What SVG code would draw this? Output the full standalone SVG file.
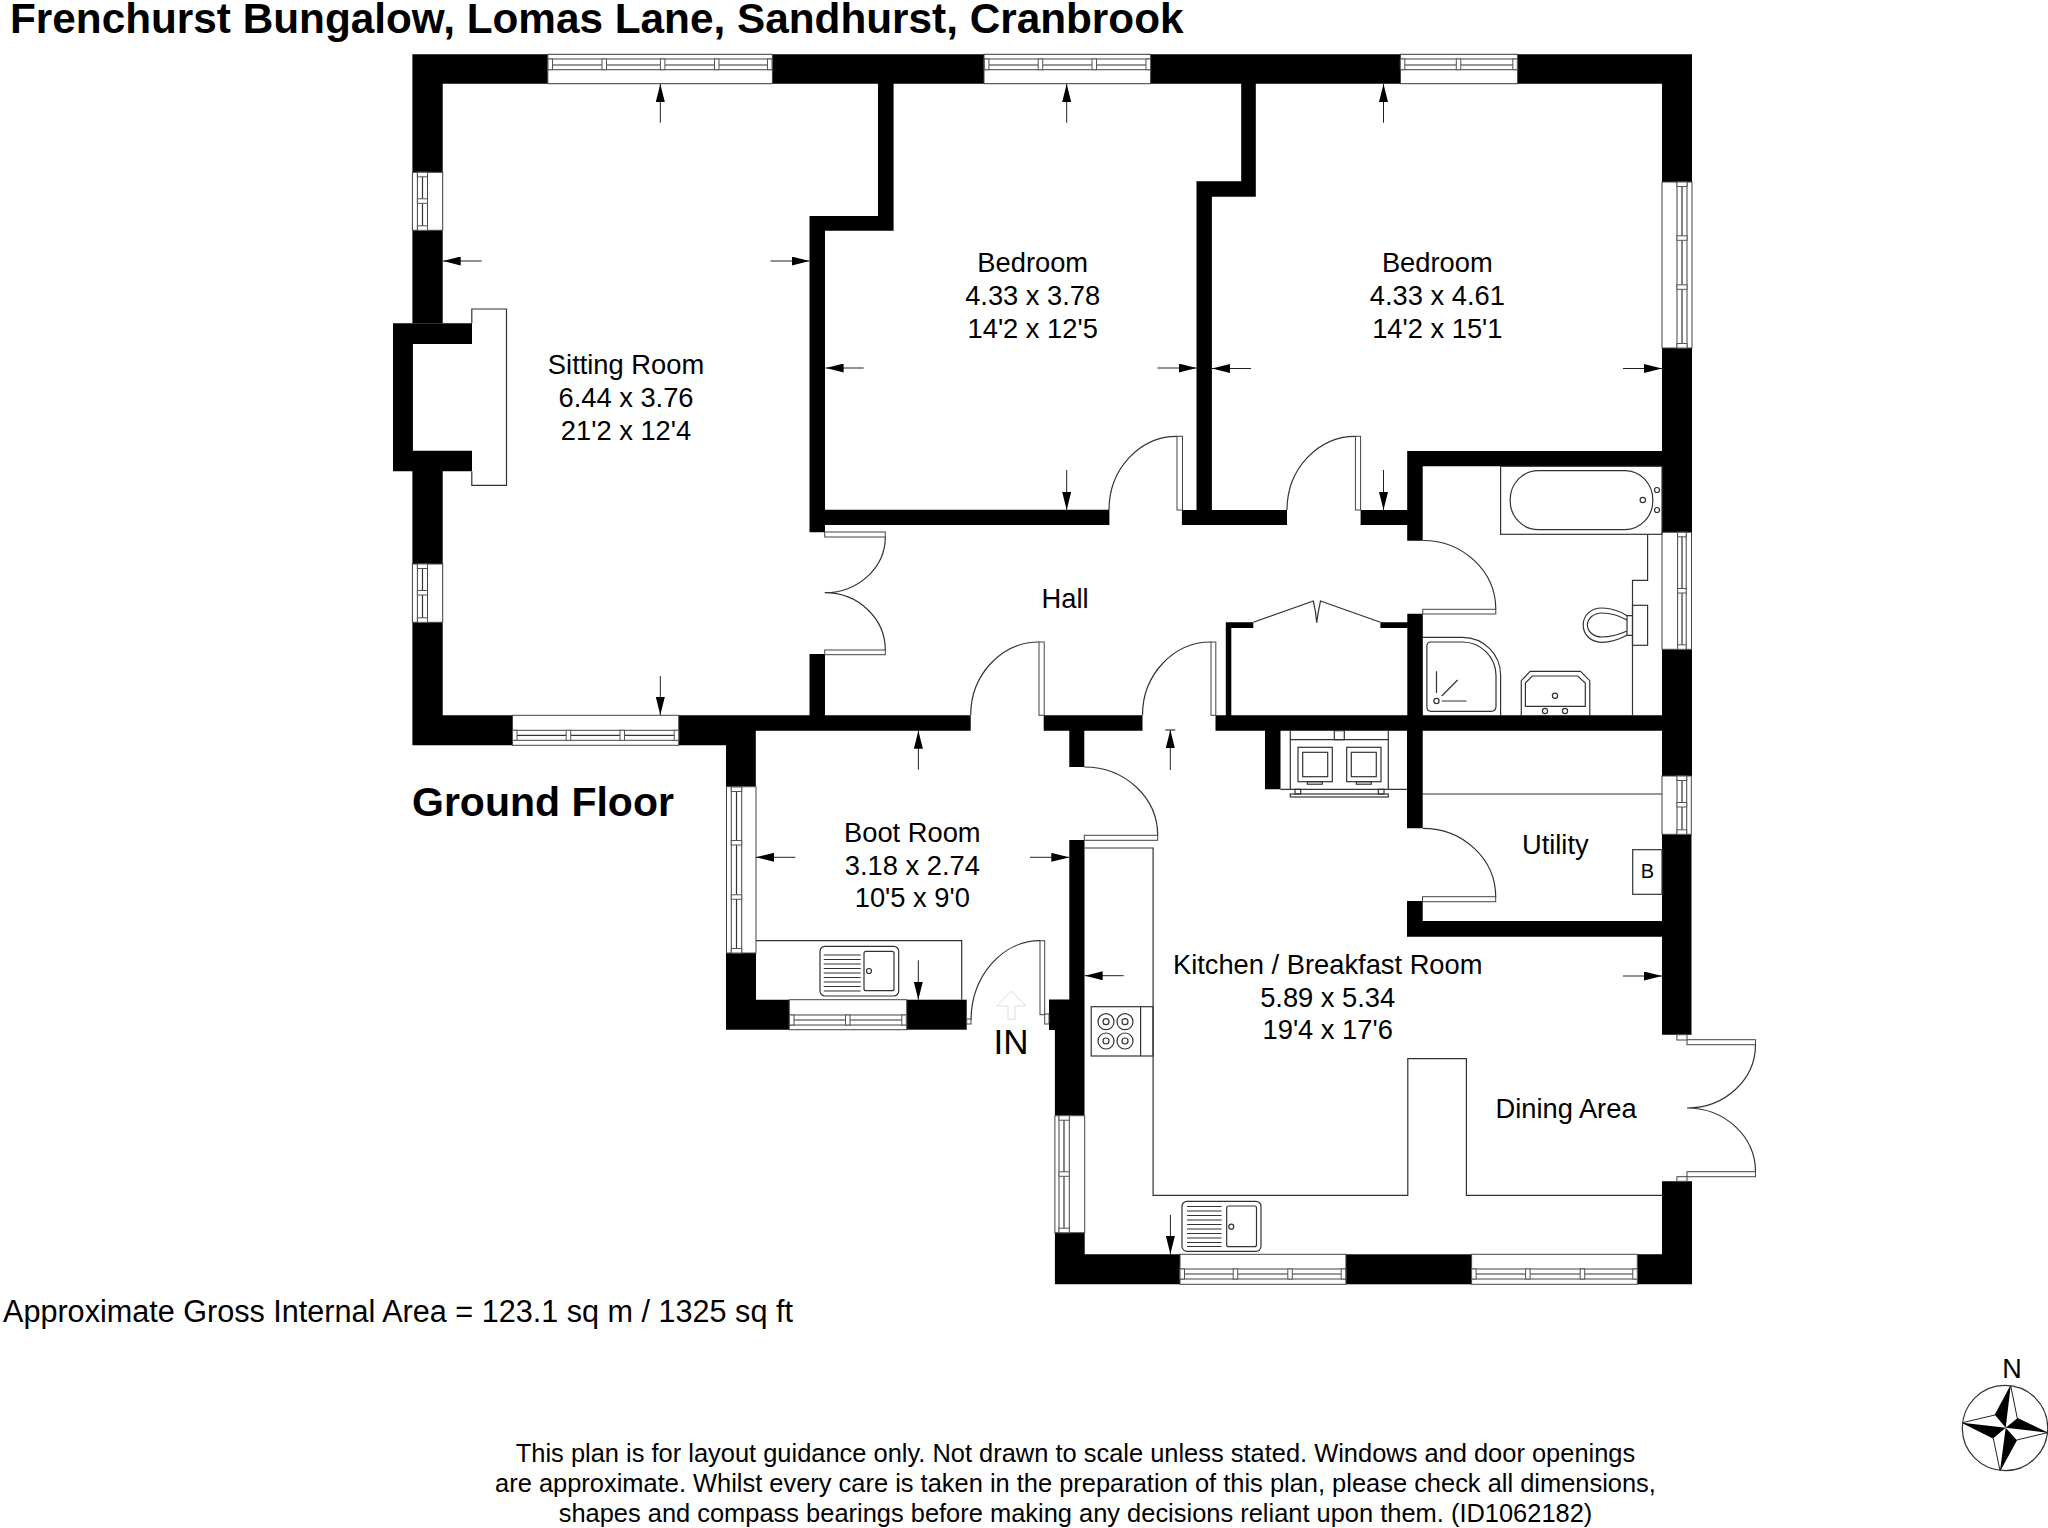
<svg xmlns="http://www.w3.org/2000/svg" width="2048" height="1528" viewBox="0 0 2048 1528">
<style>
text{font-family:"Liberation Sans",Arial,sans-serif;fill:#000}
.r{font-size:27.3px;text-anchor:middle}
.d{font-size:25.45px;text-anchor:middle}
.b{font-weight:bold}
.w{fill:#000;stroke:none}
.l{fill:none;stroke:#333;stroke-width:1.2}
.g{fill:#fff;stroke:#444;stroke-width:1}
.m{fill:#fff;stroke:#555;stroke-width:1}
.a{stroke:#222;stroke-width:1;fill:none;marker-end:url(#ah)}
</style>
<defs>
<marker id="ah" markerUnits="userSpaceOnUse" viewBox="0 0 18 9" refX="18" refY="4.5" markerWidth="18" markerHeight="9" orient="auto"><path d="M0 0L18 4.5L0 9Z" fill="#000"/></marker>
</defs>
<rect width="2048" height="1528" fill="#fff"/>
<g id="walls">
<path class="w" d="M412.4 54.3H1692V182H1662V83.7H442.7V323.3H412.4Z"/>
<path class="w" d="M393 323.3H472V344H412.9V450.7H472V471.3H442.7V715.3H512.5V745.3H412.4V471.3H393Z"/>
<path class="w" d="M678.7 715.3H970.7V730.7H755.8V786.7H726V745.3H678.7Z"/>
<path class="w" d="M726 953H756V999.7H789.3V1029.7H726Z"/>
<rect class="w" x="906.7" y="999.7" width="60" height="30"/>
<path class="w" d="M1069.3 840H1084.5V1115.7H1054.9V1030H1049V999.5H1069.3Z"/>
<path class="w" d="M1054.9 1232.7H1084.7V1254.3H1180V1284.3H1054.9Z"/>
<rect class="w" x="1345.9" y="1254.3" width="125.7" height="30"/>
<path class="w" d="M1637.3 1254.3H1662V1181.3H1692V1284.3H1637.3Z"/>
<path class="w" d="M878 83H893.6V230.7H825V509.7H1109.4V525H825V532.3H809.5V216H878Z"/>
<rect class="w" x="809.5" y="654" width="15.5" height="62"/>
<path class="w" d="M1241.2 83H1255.8V196.7H1211.9V510H1287V525H1181.9V510H1196.5V181.3H1241.2Z"/>
<path class="w" d="M1407.2 451H1692V532.3H1662V466.3H1422.7V540.7H1407.2V525H1360.6V510H1407.2Z"/>
<rect class="w" x="1662" y="348" width="30" height="105"/>
<path class="w" d="M1043.7 715.3H1142.5V730.7H1084.3V767H1069.3V730.7H1043.7Z"/>
<path class="w" d="M1407.3 613.7H1422.8V715.3H1662V649.3H1692V776H1662V730.7H1422.7V828.3H1407V730.7H1280.5V789.3H1265V730.7H1215.5V715.3H1225.8V622.3H1253.3V628H1231.3V715.3H1407.3V628H1380.4V622.3H1407.3Z"/>
<path class="w" d="M1407 901H1422.7V921H1662V834.3H1691.5V1034.7H1662V936.7H1407Z"/>
</g>
<g id="windows">
<g><rect class="g" x="547.8" y="54.3" width="224.6" height="29.4"/><rect class="g" x="548" y="59" width="224.4" height="10.7"/><path class="l" d="M548 65H772"/><rect class="m" x="548" y="59" width="4.5" height="10.7"/><rect class="m" x="602" y="59" width="4.5" height="10.7"/><rect class="m" x="660.4" y="59" width="4.5" height="10.7"/><rect class="m" x="714.5" y="59" width="4.5" height="10.7"/><rect class="m" x="767.5" y="59" width="4.5" height="10.7"/></g>
<g><rect class="g" x="984" y="54.3" width="166.6" height="29.4"/><rect class="g" x="984" y="59" width="166.6" height="10.7"/><path class="l" d="M984 65H1150"/><rect class="m" x="984.4" y="59" width="4.5" height="10.7"/><rect class="m" x="1038.2" y="59" width="4.5" height="10.7"/><rect class="m" x="1092" y="59" width="4.5" height="10.7"/><rect class="m" x="1146" y="59" width="4.5" height="10.7"/></g>
<g><rect class="g" x="1400.5" y="54.3" width="117.1" height="29.4"/><rect class="g" x="1400.5" y="59" width="117.1" height="10.7"/><path class="l" d="M1400.5 65H1517"/><rect class="m" x="1400.3" y="59" width="4.5" height="10.7"/><rect class="m" x="1456.3" y="59" width="4.5" height="10.7"/><rect class="m" x="1512.8" y="59" width="4.5" height="10.7"/></g>
<g><rect class="g" x="1662" y="182" width="30" height="166"/><rect class="g" x="1677" y="182" width="10" height="166"/><path class="l" d="M1682 182V348"/><rect class="m" x="1677" y="182" width="10" height="4.5"/><rect class="m" x="1677" y="235.8" width="10" height="4.5"/><rect class="m" x="1677" y="284.8" width="10" height="4.5"/><rect class="m" x="1677" y="343.5" width="10" height="4.5"/></g>
<g><rect class="g" x="412.4" y="172.3" width="30.3" height="58"/><rect class="g" x="417.4" y="172.3" width="10.1" height="58"/><path class="l" d="M422.5 172.3V230.3"/><rect class="m" x="417.4" y="172.3" width="10.1" height="4.5"/><rect class="m" x="417.4" y="198.8" width="10.1" height="4.5"/><rect class="m" x="417.4" y="225.8" width="10.1" height="4.5"/></g>
<g><rect class="g" x="412.4" y="564" width="30.3" height="58.3"/><rect class="g" x="417.4" y="564" width="10.1" height="58.3"/><path class="l" d="M422.5 564V622"/><rect class="m" x="417.4" y="564" width="10.1" height="4.5"/><rect class="m" x="417.4" y="590.5" width="10.1" height="4.5"/><rect class="m" x="417.4" y="617.8" width="10.1" height="4.5"/></g>
<g><rect class="g" x="512.5" y="715.3" width="166.2" height="30"/><rect class="g" x="512.5" y="730.3" width="166.2" height="10"/><path class="l" d="M512.5 735.3H678.7"/><rect class="m" x="512.5" y="730.3" width="4.5" height="10"/><rect class="m" x="566.2" y="730.3" width="4.5" height="10"/><rect class="m" x="620" y="730.3" width="4.5" height="10"/><rect class="m" x="674.2" y="730.3" width="4.5" height="10"/></g>
<g><rect class="g" x="726.5" y="786.7" width="29.5" height="166.3"/><rect class="g" x="731.3" y="786.7" width="10.4" height="166.3"/><path class="l" d="M736.5 786.7V953"/><rect class="m" x="731.3" y="787" width="10.4" height="4.5"/><rect class="m" x="731.3" y="840.5" width="10.4" height="4.5"/><rect class="m" x="731.3" y="894.8" width="10.4" height="4.5"/><rect class="m" x="731.3" y="948.5" width="10.4" height="4.5"/></g>
<g><rect class="g" x="789.3" y="999.7" width="117.4" height="30"/><rect class="g" x="789.3" y="1015" width="117.4" height="10"/><path class="l" d="M789.3 1020H906.7"/><rect class="m" x="789.5" y="1015" width="4.5" height="10"/><rect class="m" x="845.5" y="1015" width="4.5" height="10"/><rect class="m" x="901.8" y="1015" width="4.5" height="10"/></g>
<g><rect class="g" x="1662" y="532.3" width="29.5" height="117"/><rect class="g" x="1677.6" y="532.3" width="8.6" height="117"/><path class="l" d="M1682 532.3V649.3"/><rect class="m" x="1677.6" y="532.3" width="8.6" height="4.5"/><rect class="m" x="1677.6" y="588.5" width="8.6" height="4.5"/><rect class="m" x="1677.6" y="644.8" width="8.6" height="4.5"/></g>
<g><rect class="g" x="1662" y="776" width="29.3" height="58.3"/><rect class="g" x="1677" y="776" width="9.7" height="58.3"/><path class="l" d="M1682 776V834"/><rect class="m" x="1677" y="776" width="9.7" height="4.5"/><rect class="m" x="1677" y="802.5" width="9.7" height="4.5"/><rect class="m" x="1677" y="829.8" width="9.7" height="4.5"/></g>
<g><rect class="g" x="1054.9" y="1115.7" width="29.8" height="117"/><rect class="g" x="1059" y="1115.7" width="10.3" height="117"/><path class="l" d="M1064 1115.7V1232.7"/><rect class="m" x="1059" y="1115.7" width="10.3" height="4.5"/><rect class="m" x="1059" y="1171.8" width="10.3" height="4.5"/><rect class="m" x="1059" y="1228.2" width="10.3" height="4.5"/></g>
<g><rect class="g" x="1180" y="1254.3" width="165.9" height="30"/><rect class="g" x="1180" y="1269" width="165.9" height="10"/><path class="l" d="M1180 1274H1345.9"/><rect class="m" x="1180" y="1269" width="4.5" height="10"/><rect class="m" x="1233.2" y="1269" width="4.5" height="10"/><rect class="m" x="1287.8" y="1269" width="4.5" height="10"/><rect class="m" x="1341.2" y="1269" width="4.5" height="10"/></g>
<g><rect class="g" x="1471.6" y="1254.3" width="165.7" height="30"/><rect class="g" x="1471.6" y="1269" width="165.7" height="10"/><path class="l" d="M1471.6 1274H1637.3"/><rect class="m" x="1471.6" y="1269" width="4.5" height="10"/><rect class="m" x="1525.6" y="1269" width="4.5" height="10"/><rect class="m" x="1580.2" y="1269" width="4.5" height="10"/><rect class="m" x="1632.8" y="1269" width="4.5" height="10"/></g>
</g>
<g id="doors">
<rect class="g" x="824.7" y="532" width="60.6" height="5"/><path class="l" d="M885.3 537A60.6 55.7 0 0 1 824.7 592.7A60.6 57.3 0 0 1 885.3 650"/><rect class="g" x="824.7" y="650" width="60.6" height="4.7"/>
<rect class="g" x="1177" y="436.3" width="5.5" height="73.7"/><path class="l" d="M1177 436.3A68 73.7 0 0 0 1109 510"/>
<rect class="g" x="1355.4" y="436.3" width="5.2" height="73.7"/><path class="l" d="M1355.4 436.3A68.4 73.7 0 0 0 1287 510"/>
<rect class="g" x="1039" y="642" width="5.2" height="73.3"/><path class="l" d="M1039 642A68.3 73.3 0 0 0 970.7 715.3"/>
<rect class="g" x="1211" y="642" width="4.8" height="73.3"/><path class="l" d="M1211 642A68.5 73.3 0 0 0 1142.5 715.3"/>
<rect class="g" x="1422.8" y="609.3" width="73" height="4.7"/><path class="l" d="M1422.8 540.5A73 68.8 0 0 1 1495.8 609.3"/>
<path class="l" d="M1253.3 622.3L1313.3 601Q1316 612 1316.7 622.7Q1318 612 1320.5 601L1380.4 622.3"/>
<rect class="g" x="1084.3" y="835.3" width="73.4" height="5"/><path class="l" d="M1084.3 767A73.4 68.3 0 0 1 1157.7 835.3"/>
<rect class="g" x="1422.5" y="896.7" width="73.2" height="5"/><path class="l" d="M1422.7 828.3A73 68.4 0 0 1 1495.7 896.7"/>
<rect class="g" x="1040" y="940.7" width="4.7" height="74"/><rect class="g" x="1044.7" y="1014" width="4.3" height="10"/><path class="l" d="M1040 940.7A69 80 0 0 0 971 1020"/><rect class="g" x="966.7" y="1019" width="4.3" height="5"/>
<rect class="g" x="1687" y="1039.7" width="68.5" height="5"/><rect class="g" x="1676.9" y="1034.7" width="10.1" height="5.3"/><path class="l" d="M1755.5 1044.7A68.5 63.3 0 0 1 1687 1108A68.5 63.7 0 0 1 1755.5 1171.7"/><rect class="g" x="1687" y="1171.7" width="68.5" height="5"/><rect class="g" x="1676.9" y="1176.7" width="10.1" height="4.6"/>
</g>
<g id="fixtures">
<path class="l" d="M471.8 323.3V309H506.5V485.3H471.8V471.3"/>
<g id="bath"><rect class="l" x="1500.6" y="466.3" width="161.4" height="68"/><rect class="l" x="1510.2" y="470.7" width="142.6" height="59" rx="28" ry="29"/><circle class="l" cx="1657" cy="490" r="2.5"/><circle class="l" cx="1657" cy="510" r="2.5"/><circle class="l" cx="1642.8" cy="500" r="2.7"/></g>
<path class="l" d="M1647.6 534.3V580.3H1632.5V715.3"/>
<g id="wc"><rect class="l" x="1632.5" y="605.3" width="15.1" height="40"/><path class="l" d="M1632.5 615.7H1627V635.3H1632.5"/><path class="l" d="M1627 615.7C1618 610 1608 608 1602 608C1590 608 1583.2 616 1583.2 625C1583.2 634 1590 642.3 1602 642.3C1608 642.3 1618 640 1627 635.3"/><path class="l" d="M1627 620C1618 615 1608 613 1602 613C1593 613 1587.4 619 1587.4 625C1587.4 631 1593 637 1602 637C1608 637 1618 635 1627 631"/></g>
<g id="shower"><path class="l" d="M1422.8 637.3H1462.4A38.2 37.7 0 0 1 1500.6 675V715.3"/><path class="l" d="M1431 642H1462.4A33.6 33.6 0 0 1 1496 675.6V706.3Q1496 711.3 1491 711.3H1431Q1426.9 711.3 1426.9 707V646Q1426.9 642 1431 642Z"/><circle class="l" cx="1436.5" cy="701" r="2.6"/><path class="l" d="M1436.5 671.3V693M1441.7 701H1466.5M1441.7 696L1457.6 680"/></g>
<g id="basin"><path class="l" d="M1521.3 715.3V680.7L1530.2 671.3H1580.5L1589.8 680.7V715.3"/><path class="l" d="M1525.4 706.3V683L1532.3 676H1577.7L1585.3 683V706.3Z"/><circle class="l" cx="1555" cy="695.7" r="2.6"/><circle class="l" cx="1545" cy="711" r="2.6"/><circle class="l" cx="1565" cy="711" r="2.6"/></g>
<g id="washer"><path class="l" d="M1280.5 789.3H1407M1290.3 730.7V789.3M1388.3 730.7V789.3M1290.3 739.7H1388.3"/><rect class="l" x="1334.3" y="730.7" width="10" height="9"/><rect class="l" x="1298" y="747.3" width="34.3" height="34.4"/><rect class="l" x="1302.7" y="752.3" width="25" height="24.4"/><rect class="l" x="1346.7" y="747.3" width="34.3" height="34.4"/><rect class="l" x="1351.3" y="752.3" width="25" height="24.4"/><rect class="l" x="1307.3" y="781.7" width="15" height="2.5"/><rect class="l" x="1356.3" y="781.7" width="15" height="2.5"/><rect class="l" x="1295" y="789.3" width="5.7" height="4.7"/><rect class="l" x="1378.3" y="789.3" width="5.7" height="4.7"/><rect class="l" x="1290.3" y="794" width="98" height="3"/></g>
<path class="l" d="M1422.7 794H1662"/>
<rect class="l" x="1632.7" y="849.7" width="29.3" height="44.6"/>
<path class="l" d="M756 940.7H961.7V999.7"/>
<g id="boot-sink"><rect class="l" x="820" y="946.3" width="78.7" height="49.7" rx="5"/><rect class="l" x="864" y="951.3" width="30" height="39.4" rx="2"/><circle class="l" cx="869" cy="971" r="2.5"/><path class="l" d="M823.7 955H860.7M823.7 959.5H860.7M823.7 964H860.7M823.7 968.5H860.7M823.7 973H860.7M823.7 977.5H860.7M823.7 982H860.7M823.7 986.5H860.7M823.7 991H860.7"/></g>
<path class="l" d="M1084.3 848H1153.1V1195.3H1407.8V1058.7H1466.4V1195.3H1662"/>
<g id="hob"><rect class="l" x="1091.2" y="1006.7" width="61.8" height="49.3"/><path class="l" d="M1140.6 1006.7V1056"/><circle class="l" cx="1106" cy="1021.7" r="8"/><circle class="l" cx="1106" cy="1021.7" r="3"/><circle class="l" cx="1125" cy="1021.7" r="8"/><circle class="l" cx="1125" cy="1021.7" r="3"/><circle class="l" cx="1106" cy="1041" r="8"/><circle class="l" cx="1106" cy="1041" r="3"/><circle class="l" cx="1125" cy="1041" r="8"/><circle class="l" cx="1125" cy="1041" r="3"/></g>
<g id="kitchen-sink"><rect class="l" x="1182" y="1201.3" width="79" height="50" rx="5"/><rect class="l" x="1226.7" y="1206" width="29.8" height="40.7" rx="2"/><circle class="l" cx="1231.3" cy="1226.7" r="2.5"/><path class="l" d="M1187 1206.5H1221.6M1187 1211H1221.6M1187 1215.5H1221.6M1187 1220H1221.6M1187 1224.5H1221.6M1187 1229H1221.6M1187 1233.5H1221.6M1187 1238H1221.6M1187 1242.5H1221.6M1187 1246.5H1221.6"/></g>
<path fill="#fff" stroke="#ddd" stroke-width="1" d="M1011.3 991L1026 1006H1015V1019.3H1008V1006H996.7Z"/>
</g>
<g id="connectors">
<path class="a" d="M660.3 122.7V84"/><path class="a" d="M1066.7 122.7V84"/><path class="a" d="M1383.5 122.7V84"/>
<path class="a" d="M481.7 261H442.7"/><path class="a" d="M770.5 261H809.5"/>
<path class="a" d="M863.7 368H825.6"/><path class="a" d="M1157.5 368H1196.5"/><path class="a" d="M1251 368.5H1212"/><path class="a" d="M1623 368.5H1662"/>
<path class="a" d="M1066.7 470V510"/><path class="a" d="M1383.5 470V510"/>
<path class="a" d="M660.3 676V715"/><path class="a" d="M918.4 769.7V730.7"/>
<path class="a" d="M795.3 857.3H756"/><path class="a" d="M1030 857.3H1069.3"/>
<path class="a" d="M918.3 960.3V999.7"/>
<path class="a" d="M1170.3 770V730"/><path class="l" d="M1165.3 730H1175.3"/>
<path class="a" d="M1123.7 975.7H1084.7"/><path class="a" d="M1623 976H1662"/>
<path class="a" d="M1170.4 1215V1254"/>
</g>
<g id="labels">
<text class="r" x="626" y="374">Sitting Room</text><text class="r" x="626" y="407.3">6.44 x 3.76</text><text class="r" x="626" y="440">21'2 x 12'4</text>
<text class="r" x="1032.7" y="271.8">Bedroom</text><text class="r" x="1032.7" y="304.8">4.33 x 3.78</text><text class="r" x="1032.7" y="337.5">14'2 x 12'5</text>
<text class="r" x="1437.3" y="271.8">Bedroom</text><text class="r" x="1437.3" y="304.8">4.33 x 4.61</text><text class="r" x="1437.3" y="337.5">14'2 x 15'1</text>
<text class="r" x="1065" y="607.5">Hall</text>
<text class="r" x="912.3" y="841.8">Boot Room</text><text class="r" x="912.3" y="874.6">3.18 x 2.74</text><text class="r" x="912.3" y="907.3">10'5 x 9'0</text>
<text class="r" x="1555.3" y="854.1">Utility</text>
<text x="1647.3" y="878.3" text-anchor="middle" font-size="20">B</text>
<text class="r" x="1327.7" y="974.1">Kitchen / Breakfast Room</text><text class="r" x="1327.7" y="1006.8">5.89 x 5.34</text><text class="r" x="1327.7" y="1039.1">19'4 x 17'6</text>
<text class="r" x="1566" y="1117.5">Dining Area</text>
<text x="1011" y="1054.3" text-anchor="middle" font-size="35">IN</text>
<text class="b" x="10" y="33.3" font-size="42.3">Frenchurst Bungalow, Lomas Lane, Sandhurst, Cranbrook</text>
<text class="b" x="412" y="816" font-size="41">Ground Floor</text>
<text x="3" y="1321.5" font-size="30.6">Approximate Gross Internal Area = 123.1 sq m / 1325 sq ft</text>
<text class="d" x="1075.5" y="1461.7">This plan is for layout guidance only. Not drawn to scale unless stated. Windows and door openings</text>
<text class="d" x="1075.5" y="1491.7">are approximate. Whilst every care is taken in the preparation of this plan, please check all dimensions,</text>
<text class="d" x="1075.5" y="1521.7">shapes and compass bearings before making any decisions reliant upon them. (ID1062182)</text>
</g>
<g id="compass">
<text x="2012" y="1377.7" text-anchor="middle" font-size="27">N</text>
<circle cx="2005" cy="1428" r="42.7" fill="#fff" stroke="#333" stroke-width="1.2"/>
<path fill="#fff" stroke="#222" stroke-width="1" d="M2010.7 1385.7L2017.3 1418.3L2047.3 1432.7L2016.7 1440L2000 1470.7L1993.3 1438.3L1962.3 1422.7L1995 1415Z"/>
<path fill="#000" d="M2010.7 1385.7L1995 1415L2005.7 1427.7ZM2047.3 1432.7L2017.3 1418.3L2005.7 1427.7ZM2000 1470.7L2016.7 1440L2005.7 1427.7ZM1962.3 1422.7L1993.3 1438.3L2005.7 1427.7Z"/>
</g>
</svg>
